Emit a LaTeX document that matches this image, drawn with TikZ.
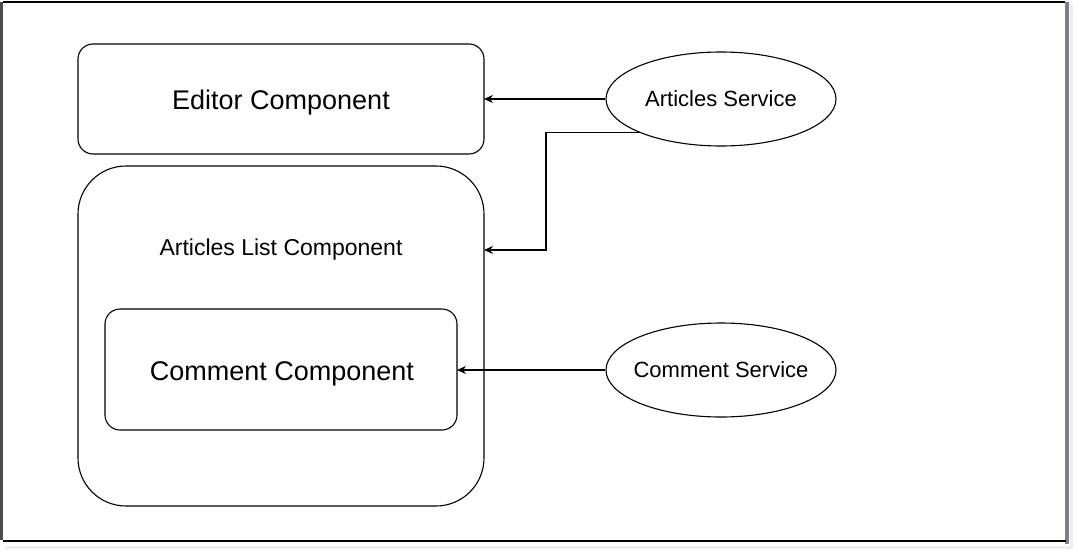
\documentclass[tikz,border=0pt]{standalone}
\usepackage{fontspec}
\setmainfont{Liberation Sans}
\usetikzlibrary{shapes.geometric,arrows.meta}
\begin{document}
\begin{tikzpicture}[x=1pt,y=-1pt,
  box/.style={draw=black,line width=1.1pt,rounded corners=#1},
  svc/.style={draw=black,line width=1.1pt,ellipse,minimum width=230pt,minimum height=94pt,inner sep=0pt,font=\fontsize{22}{26}\selectfont},
  conn/.style={draw=black,line width=1.1pt,-{Stealth[length=9pt,width=8pt]}},
  lbl/.style={inner sep=0pt,anchor=base}]
\useasboundingbox (0,0) rectangle (1079,554);
\fill[white] (0,0) rectangle (1079,554);
% frame
\draw[gray!60!black,line width=3pt] (1.5,2) -- (1.5,540);
\draw[gray,line width=4pt] (1067,2) -- (1067,544);
\draw[black!10!blue!8,line width=3pt] (1071,4) -- (1071,547) -- (5,547);
\draw[black,line width=2pt] (3,2) -- (1065,2);
\draw[black,line width=2pt] (3,541) -- (1066,541);
% boxes
\path[box=15pt] (78,44) rectangle (484,154);
\coordinate (edR) at (484,99);
\node[lbl,font=\fontsize{27}{32}\selectfont] (ed) at (281,109) {Editor Component};
\path[box=48pt] (78,166) rectangle (484,506);
\coordinate (alR) at (484,250);
\node[lbl,font=\fontsize{23}{28}\selectfont] (al) at (281,255) {Articles List Component};
\path[box=15pt] (105,309) rectangle (457,430);
\coordinate (ccR) at (457,370);
\node[lbl,font=\fontsize{27}{32}\selectfont] (cc) at (282,380) {Comment Component};
% services
\node[svc] (as) at (721,99) {\makebox[0pt]{Articles Service}};
\node[svc] (cs) at (721,370) {\makebox[0pt]{Comment Service}};
% connectors
\draw[conn] (as.west) -- (edR);
\draw[conn] (as.-158) -| (546,250) -- (alR);
\draw[conn] (cs.west) -- (ccR);
\end{tikzpicture}
\end{document}
